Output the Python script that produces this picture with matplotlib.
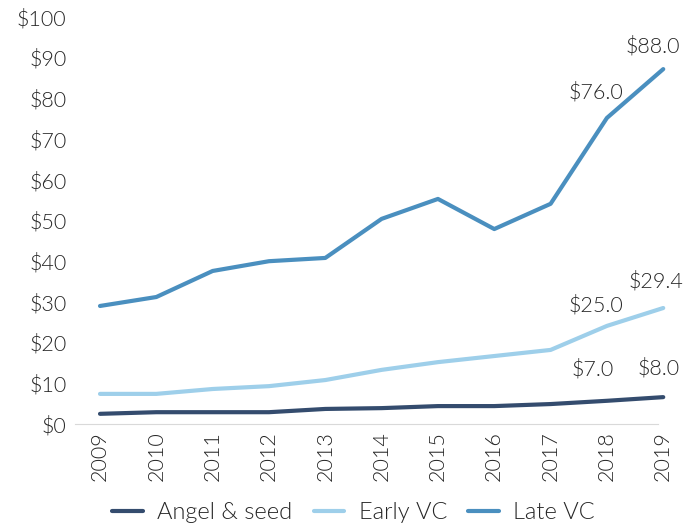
import matplotlib
matplotlib.use("Agg")
import matplotlib.pyplot as plt

years = ["2009", "2010", "2011", "2012", "2013", "2014", "2015", "2016", "2017", "2018", "2019"]
angel_seed = [2.5, 2.9, 2.9, 2.9, 3.7, 3.9, 4.4, 4.4, 4.9, 5.7, 6.6]
early_vc = [7.4, 7.4, 8.6, 9.3, 10.8, 13.3, 15.2, 16.7, 18.2, 24.1, 28.5]
late_vc = [29.0, 31.2, 37.6, 40.0, 40.8, 50.4, 55.3, 47.9, 54.1, 75.2, 87.2]

# value labels shown on the last two years
angel_labels = ["$7.0", "$8.0"]
early_labels = ["$25.0", "$29.4"]
late_labels = ["$76.0", "$88.0"]

text_color = "#262626"
plt.rcParams["font.family"] = ["Lato", "DejaVu Sans"]
plt.rcParams["font.weight"] = 300

fig = plt.figure(figsize=(7, 5.25), dpi=100)
ax = fig.add_axes([75 / 700, 101 / 525, 595 / 700, 407 / 525])

x = list(range(len(years)))
series = [
    ("Angel & seed", angel_seed, "#344c6e", angel_labels, [(-14, 32), (-5, 29)]),
    ("Early VC", early_vc, "#9ecfea", early_labels, [(-11, 21), (-7, 27)]),
    ("Late VC", late_vc, "#4a8fbf", late_labels, [(-11, 26), (-10, 23)]),
]
for name, vals, color, labels, offsets in series:
    ax.plot(x, vals, color=color, lw=3, label=name, solid_capstyle="round")
    for i, lab, off in zip([9, 10], labels, offsets):
        ax.annotate(lab, (x[i], vals[i]), xytext=off, textcoords="offset pixels",
                    ha="center", va="center", fontsize=15.5, color=text_color)

ax.set_xlim(-0.444, 10.12)
ax.set_ylim(0, 100)
ax.set_yticks(range(0, 101, 10))
ax.set_yticklabels([f"${v}" for v in range(0, 101, 10)])
ax.set_xticks(x)
ax.set_xticklabels(years, rotation=90)
ax.tick_params(axis="both", length=0, labelsize=15.5, colors=text_color)
ax.tick_params(axis="y", pad=6)
ax.tick_params(axis="x", pad=5)

for s in ["top", "right", "left"]:
    ax.spines[s].set_visible(False)
ax.spines["bottom"].set_color("#d9d9d9")
ax.spines["bottom"].set_bounds(-0.444, 9.91)

leg = ax.legend(loc="lower center", bbox_to_anchor=(0.468, -0.295), ncol=3, frameon=False,
                fontsize=17, handlelength=1.3, columnspacing=0.9, handletextpad=0.6)
for t in leg.get_texts():
    t.set_color(text_color)

fig.savefig("out.png", dpi=100)
